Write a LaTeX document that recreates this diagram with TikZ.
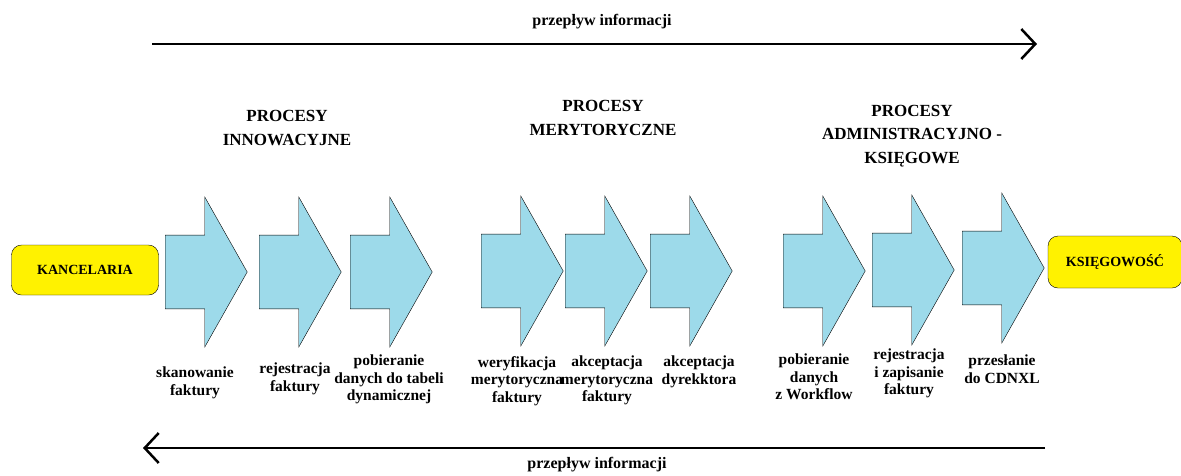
\documentclass[tikz,border=0pt]{standalone}
\usepackage{fontspec}
\setmainfont{Liberation Serif}
\usetikzlibrary{positioning,shapes.arrows,arrows.meta}
\definecolor{procblue}{RGB}{157,218,234}
\definecolor{deptyellow}{RGB}{255,242,0}

\begin{document}
\begin{tikzpicture}[x=1pt,y=-1pt,font=\bfseries,
	proc/.style={single arrow,draw,fill=procblue,minimum height=82pt,minimum width=150pt,
		single arrow head extend=38pt,single arrow tip angle=121,
		inner xsep=0pt,inner ysep=36.5pt,anchor=tail},
	dept/.style={draw,fill=deptyellow,rounded corners=10pt,font=\fontsize{14}{16}\selectfont\bfseries},
	desc/.style={align=center,anchor=north,inner sep=0pt,font=\fontsize{15.5}{17.5}\selectfont\bfseries},
	phase/.style={align=center,inner sep=0pt,font=\fontsize{17}{23.5}\selectfont\bfseries},
	flow/.style={line width=2.5pt,-{Straight Barb[length=14pt,width=30pt]}}]
\useasboundingbox (0,0) rectangle (1181,475);

% information flow
\coordinate (ft1) at (152,44);
\coordinate (ft2) at (1037,44);
\draw[flow] (ft1) -- (ft2);
\node[font=\fontsize{16}{18}\selectfont\bfseries] (ftl) at (602,22) {przepływ informacji};
\coordinate (fb1) at (1045,448);
\coordinate (fb2) at (143,448);
\draw[flow] (fb1) -- (fb2);
\node[font=\fontsize{16}{18}\selectfont\bfseries] (fbl) at (597,465) {przepływ informacji};

% groups
\node[phase] (g1) at (287,128) {PROCESY\\INNOWACYJNE};
\node[phase] (g2) at (603,118) {PROCESY\\MERYTORYCZNE};
\node[phase] (g3) at (912,136) {PROCESY\\ADMINISTRACYJNO -\\KSIĘGOWE};

% departments
\node[dept,minimum width=147pt,minimum height=50pt] (kanc) at (85,270) {KANCELARIA};
\node[dept,minimum width=134pt,minimum height=52pt] (ksieg) at (1115,262) {KSIĘGOWOŚĆ};

% process steps
\node[proc] (a1) at (165,272) {};
\node[proc] (a2) at (259,272) {};
\node[proc] (a3) at (350,272) {};
\node[proc] (a4) at (481,271) {};
\node[proc] (a5) at (565,271) {};
\node[proc] (a6) at (650,271) {};
\node[proc] (a7) at (783,271) {};
\node[proc] (a8) at (872,270) {};
\node[proc] (a9) at (962,268) {};

\node[desc] (d1) at (195,367) {skanowanie\\faktury};
\node[desc] (d2) at (295,363) {rejestracja\\faktury};
\node[desc] (d3) at (389,355) {pobieranie\\danych do tabeli\\dynamicznej};
\node[desc] (d4) at (517,356) {weryfikacja\\merytoryczna\\faktury};
\node[desc] (d5) at (607,356) {akceptacja\\merytoryczna\\faktury};
\node[desc] (d6) at (699,356) {akceptacja\\dyrekktora};
\node[desc] (d7) at (814,354) {pobieranie\\danych\\z Workflow};
\node[desc] (d8) at (909,349) {rejestracja\\i zapisanie\\faktury};
\node[desc] (d9) at (1002,355) {przesłanie\\do CDNXL};
\end{tikzpicture}
\end{document}
